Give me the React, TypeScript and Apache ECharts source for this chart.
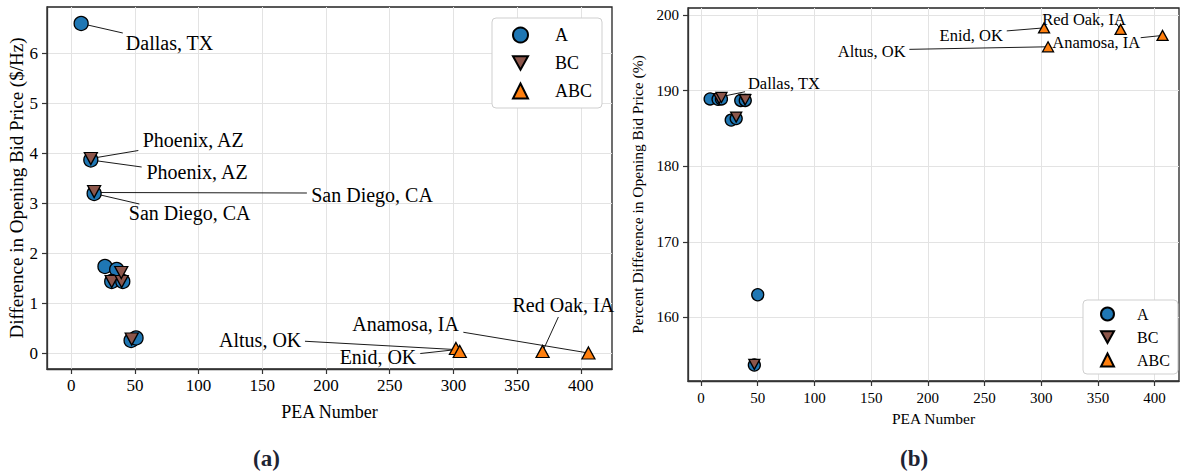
import React, { useEffect, useRef } from 'react';
import * as echarts from 'echarts';

const FONT = 'Liberation Serif';

// ---- Panel (a): difference in opening bid price ($/Hz)
const peaA_a = [7.8, 15.4, 18, 26.5, 35.7, 31.8, 40.5, 47, 50.9];
const diffA_a = [6.6, 3.87, 3.2, 1.74, 1.68, 1.44, 1.44, 0.26, 0.31];
const peaBC_a = [15.4, 18, 31.8, 39.6, 39.3, 47.5];
const diffBC_a = [3.9, 3.24, 1.44, 1.44, 1.62, 0.29];
const peaABC_a = [302, 305, 370, 406];
const diffABC_a = [0.1, 0.04, 0.04, 0.01];

// ---- Panel (b): percent difference (%)
const peaA_b = [8, 15, 18, 26.6, 35, 31, 39, 47, 50];
const pctA_b = [188.9, 188.85, 188.9, 186.1, 188.7, 186.3, 188.7, 153.7, 163];
const peaBC_b = [16, 18, 31, 38.5, 39, 47];
const pctBC_b = [188.95, 189.1, 186.5, 188.85, 188.8, 153.8];
const peaABC_b = [302.5, 306, 370, 407];
const pctABC_b = [198.3, 195.8, 198.1, 197.3];

// tick values
const xTicks = [0, 50, 100, 150, 200, 250, 300, 350, 400];
const yTicks_a = [0, 1, 2, 3, 4, 5, 6];
const yTicks_b = [160, 170, 180, 190, 200];
const legendNames = ['A', 'BC', 'ABC'];

// annotations: [text, pointX, pointY, textX, textY, align, lineEndX, lineEndY]
type Ann = [string, number, number, number, number, string, number, number];
const annotations_a: Ann[] = [
  ['Dallas, TX', 7.8, 6.6, 42.5, 6.21, 'left', 40.5, 6.41],
  ['Phoenix, AZ', 15.4, 3.9, 55.7, 4.27, 'left', 52.7, 4.06],
  ['Phoenix, AZ', 15.4, 3.87, 58.7, 3.63, 'left', 55.3, 3.73],
  ['San Diego, CA', 18, 3.22, 188, 3.18, 'left', 185, 3.21],
  ['San Diego, CA', 18, 3.2, 44.8, 2.81, 'left', 53.5, 2.99],
  ['Altus, OK', 301, 0.08, 181, 0.28, 'right', 183.5, 0.245],
  ['Enid, OK', 303, 0.08, 271.3, -0.07, 'right', 274, 0.0],
  ['Anamosa, IA', 406, 0.01, 304.7, 0.6, 'right', 307.8, 0.425],
  ['Red Oak, IA', 370, 0.04, 386.3, 0.98, 'center', 382.4, 0.73],
];
const annotations_b: Ann[] = [
  ['Dallas, TX', 8, 188.9, 40.9, 190.96, 'left', 38.8, 189.85],
  ['Enid, OK', 302.5, 198.3, 266.6, 197.35, 'right', 269.6, 197.9],
  ['Altus, OK', 306, 195.8, 180.8, 195.15, 'right', 183.7, 195.46],
  ['Red Oak, IA', 370, 198.1, 300.4, 199.47, 'left', 366, 198.9],
  ['Anamosa, IA', 407, 197.3, 309.3, 196.4, 'left', 387.7, 197.0],
];

const COLORS = { A: '#1f77b4', BC: '#8c564b', ABC: '#ff7f0e' };
const DOWN_TRI = 'path://M0,0L10,0L5,9Z';

const zip = (xs: number[], ys: number[]) => xs.map((x, i) => [x, ys[i]]);

function pointSeries(idx: number, size: number, A: number[][], BC: number[][], ABC: number[][]) {
  const common = {
    type: 'scatter',
    xAxisIndex: idx,
    yAxisIndex: idx,
    z: 3,
    silent: true,
  };
  return [
    { ...common, name: 'A', data: A, symbol: 'circle', symbolSize: size,
      itemStyle: { color: COLORS.A, borderColor: '#000', borderWidth: 1.3, opacity: 1 } },
    { ...common, name: 'BC', data: BC, symbol: DOWN_TRI, symbolSize: [size - 1, size - 2],
      itemStyle: { color: COLORS.BC, borderColor: '#000', borderWidth: 1.3, opacity: 1 } },
    { ...common, name: 'ABC', data: ABC, symbol: 'triangle', symbolSize: [size - 1, size - 2],
      itemStyle: { color: COLORS.ABC, borderColor: '#000', borderWidth: 1.3, opacity: 1 } },
  ];
}

function annSeries(idx: number, anns: Ann[], fontSize: number) {
  return [
    {
      type: 'lines',
      coordinateSystem: 'cartesian2d',
      xAxisIndex: idx,
      yAxisIndex: idx,
      z: 2,
      silent: true,
      lineStyle: { color: '#000', width: 0.9, opacity: 1 },
      data: anns.map((a) => ({ coords: [[a[1], a[2]], [a[6], a[7]]] })),
    },
    {
      type: 'scatter',
      xAxisIndex: idx,
      yAxisIndex: idx,
      z: 4,
      silent: true,
      symbol: 'circle',
      symbolSize: 1,
      itemStyle: { color: 'rgba(0,0,0,0)' },
      label: { show: true, color: '#000', fontFamily: FONT, fontSize, opacity: 1 },
      data: anns.map((a) => ({
        value: [a[3], a[4]],
        name: a[0],
        label: {
          show: true,
          position: a[5] === 'left' ? 'right' : a[5] === 'right' ? 'left' : 'inside',
          distance: 0,
          formatter: a[0],
          fontFamily: FONT,
          fontSize,
          color: '#000',
        },
      })),
    },
  ];
}

function xAxisCfg(idx: number, min: number, max: number, fontSize: number, nameSize: number, nameGap: number, margin: number) {
  return {
    type: 'value',
    gridIndex: idx,
    min,
    max,
    name: 'PEA Number',
    nameLocation: 'middle',
    nameGap,
    nameTextStyle: { fontFamily: FONT, fontSize: nameSize, color: '#000' },
    axisLine: { show: true, onZero: false, lineStyle: { color: '#333', width: 1.3 } },
    axisTick: { show: true, length: 5, inside: false, lineStyle: { color: '#333', width: 1.2 }, customValues: xTicks },
    axisLabel: { fontFamily: FONT, fontSize, color: '#000', margin, customValues: xTicks },
    splitLine: { show: true, lineStyle: { color: '#e3e3e3', width: 1 } },
  };
}

function yAxisCfg(idx: number, min: number, max: number, ticks: number[], name: string, fontSize: number, nameSize: number, nameGap: number, margin: number) {
  return {
    type: 'value',
    gridIndex: idx,
    min,
    max,
    name,
    nameLocation: 'middle',
    nameGap,
    nameTextStyle: { fontFamily: FONT, fontSize: nameSize, color: '#000' },
    axisLine: { show: true, onZero: false, lineStyle: { color: '#333', width: 1.3 } },
    axisTick: { show: true, length: 5, inside: false, lineStyle: { color: '#333', width: 1.2 }, customValues: ticks },
    axisLabel: { fontFamily: FONT, fontSize, color: '#000', margin, customValues: ticks },
    splitLine: { show: true, lineStyle: { color: '#e3e3e3', width: 1 } },
  };
}

const legendData = [
  { name: 'A', icon: 'circle' },
  { name: 'BC', icon: DOWN_TRI },
  { name: 'ABC', icon: 'triangle' },
].filter((d) => legendNames.includes(d.name));

export default function App() {
  const ref = useRef<HTMLDivElement>(null);
  useEffect(() => {
    if (!ref.current) return;
    const chart = echarts.init(ref.current, undefined, { renderer: 'svg' });
    chart.setOption({
      animation: false,
      backgroundColor: '#fff',
      textStyle: { fontFamily: FONT },
      grid: [
        { left: 47, top: 7, width: 565, height: 362, show: true, borderColor: '#222', borderWidth: 1.3, backgroundColor: 'transparent' },
        { left: 688, top: 8, width: 491, height: 373, show: true, borderColor: '#222', borderWidth: 1.3, backgroundColor: 'transparent' },
      ],
      xAxis: [
        xAxisCfg(0, -19, 424.5, 17, 18, 34, 8),
        xAxisCfg(1, -11.5, 421.5, 15, 15.5, 29, 9),
      ],
      yAxis: [
        yAxisCfg(0, -0.31, 6.93, yTicks_a, 'Difference in Opening Bid Price ($/Hz)', 17, 19, 20, 9),
        yAxisCfg(1, 151.59, 200.93, yTicks_b, 'Percent Difference in Opening Bid Price (%)', 15, 15.5, 43, 9),
      ],
      legend: [
        {
          orient: 'vertical', left: 492, top: 18, data: legendData,
          itemWidth: 15, itemHeight: 15, itemGap: 10, padding: [8, 10, 8, 20],
          backgroundColor: '#fff', borderColor: '#cfcfcf', borderWidth: 1, borderRadius: 4,
          textStyle: { fontFamily: FONT, fontSize: 18, color: '#000', padding: [0, 0, 0, 22] },
          selectedMode: false,
        },
        {
          orient: 'vertical', left: 1083, top: 300, data: legendData,
          itemWidth: 13, itemHeight: 13, itemGap: 7, padding: [6, 8, 6, 17],
          backgroundColor: '#fff', borderColor: '#cfcfcf', borderWidth: 1, borderRadius: 4,
          textStyle: { fontFamily: FONT, fontSize: 16, color: '#000', padding: [0, 0, 0, 18] },
          selectedMode: false,
        },
      ],
      graphic: [
        { type: 'text', left: 253, top: 447, style: { text: '(a)', font: `bold 23px "${FONT}"`, fill: '#1e2433' } },
        { type: 'text', left: 900, top: 447, style: { text: '(b)', font: `bold 23px "${FONT}"`, fill: '#1e2433' } },
      ],
      series: [
        ...annSeries(0, annotations_a, 20),
        ...pointSeries(0, 14, zip(peaA_a, diffA_a), zip(peaBC_a, diffBC_a), zip(peaABC_a, diffABC_a)),
        ...annSeries(1, annotations_b, 16.5),
        ...pointSeries(1, 12, zip(peaA_b, pctA_b), zip(peaBC_b, pctBC_b), zip(peaABC_b, pctABC_b)),
      ],
    });
    return () => chart.dispose();
  }, []);
  return <div ref={ref} style={{ position: 'fixed', left: 0, top: 0, width: 1181, height: 475 }} />;
}
